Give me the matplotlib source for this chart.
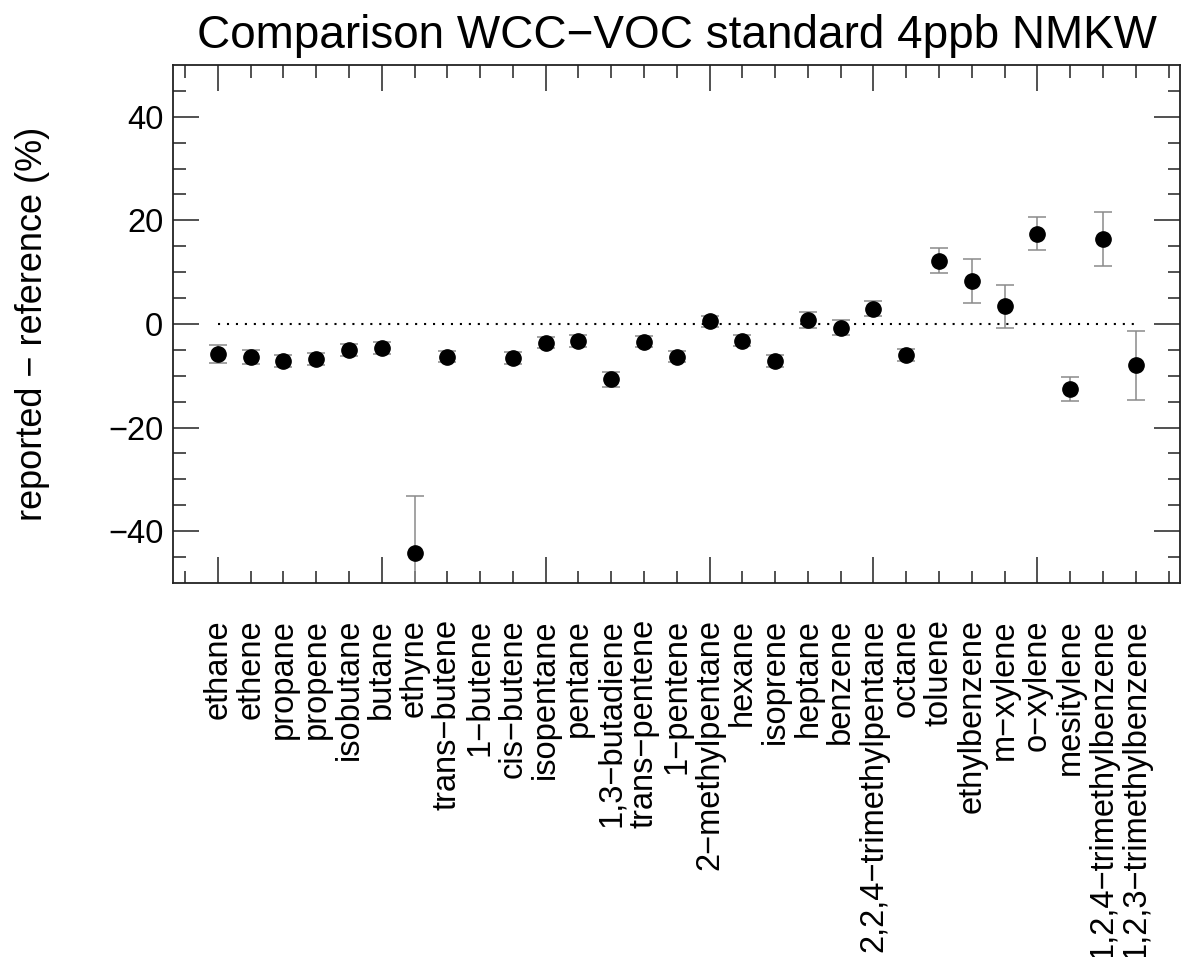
import numpy as np
import matplotlib
matplotlib.use('Agg')
import matplotlib.pyplot as plt

plt.rcParams['font.family'] = ['Liberation Sans', 'DejaVu Sans']

compounds = ['ethane', 'ethene', 'propane', 'propene', 'isobutane', 'butane', 'ethyne',
             'trans\u2212butene', '1\u2212butene', 'cis\u2212butene', 'isopentane', 'pentane',
             '1,3\u2212butadiene', 'trans\u2212pentene', '1\u2212pentene', '2\u2212methylpentane',
             'hexane', 'isoprene', 'heptane', 'benzene', '2,2,4\u2212trimethylpentane', 'octane',
             'toluene', 'ethylbenzene', 'm\u2212xylene', 'o\u2212xylene', 'mesitylene',
             '1,2,4\u2212trimethylbenzene', '1,2,3\u2212trimethylbenzene']

# reported - reference (%), NaN = not reported
deviation = [-5.8, -6.4, -7.1, -6.8, -5.0, -4.6, -44.3,
             -6.3, np.nan, -6.6, -3.6, -3.3,
             -10.7, -3.4, -6.3, 0.5,
             -3.2, -7.1, 0.8, -0.7, 2.9, -5.9,
             12.2, 8.3, 3.4, 17.4, -12.6,
             16.4, -8.0]

uncertainty = [1.7, 1.4, 1.2, 1.15, 1.15, 1.1, 11.0,
               1.05, np.nan, 1.1, 1.1, 1.1,
               1.4, 1.0, 1.0, 1.0,
               1.0, 1.15, 1.6, 1.4, 1.45, 1.15,
               2.4, 4.2, 4.1, 3.2, 2.3,
               5.3, 6.7]

x = np.arange(len(compounds))

fig = plt.figure(figsize=(11.84, 9.57), dpi=100)
ax = fig.add_axes([0.1461, 0.3908, 0.9966 - 0.1461, 0.9321 - 0.3908])

ax.plot([x[0], x[-1]], [0, 0], color='black', lw=1.5, dashes=[1, 3.3], zorder=1)
ax.errorbar(x, deviation, yerr=uncertainty, fmt='none', ecolor='#8a8a8a', elinewidth=1.1,
            capsize=6.8, capthick=1.1, zorder=2)
ax.plot(x, deviation, 'o', color='black', markersize=11, zorder=3)

ax.set_xlim(-1.37, 29.35)
ax.set_ylim(-50, 50)

ax.set_xticks(np.arange(0, 30, 5))
ax.set_xticks(np.arange(-1, 30, 1), minor=True)
ax.set_xticklabels([])
ax.set_yticks([-40, -20, 0, 20, 40])
ax.set_yticks(np.arange(-45, 50, 5), minor=True)
ax.set_yticklabels(['\u221240', '\u221220', '0', '20', '40'])

ax.tick_params(which='both', direction='in', top=True, right=True, width=1.1, color='#222222')
ax.tick_params(which='major', length=18.5)
ax.tick_params(which='minor', length=9)
ax.tick_params(axis='y', labelsize=23.5, pad=7)
for s in ax.spines.values():
    s.set_linewidth(1.3)
    s.set_color('#222222')

# compound names under the axis
for xi, name in zip(x, compounds):
    ax.annotate(name, xy=(xi, 0), xycoords=('data', 'axes fraction'),
                xytext=(0, -26), textcoords='offset points',
                rotation=90, ha='center', va='top', fontsize=23.5)

ax.set_ylabel('reported \u2212 reference (%)', fontsize=26, labelpad=42)
ax.set_title('Comparison WCC\u2212VOC standard 4ppb NMKW', fontsize=33, pad=12)

fig.savefig('out.png', dpi=100)
